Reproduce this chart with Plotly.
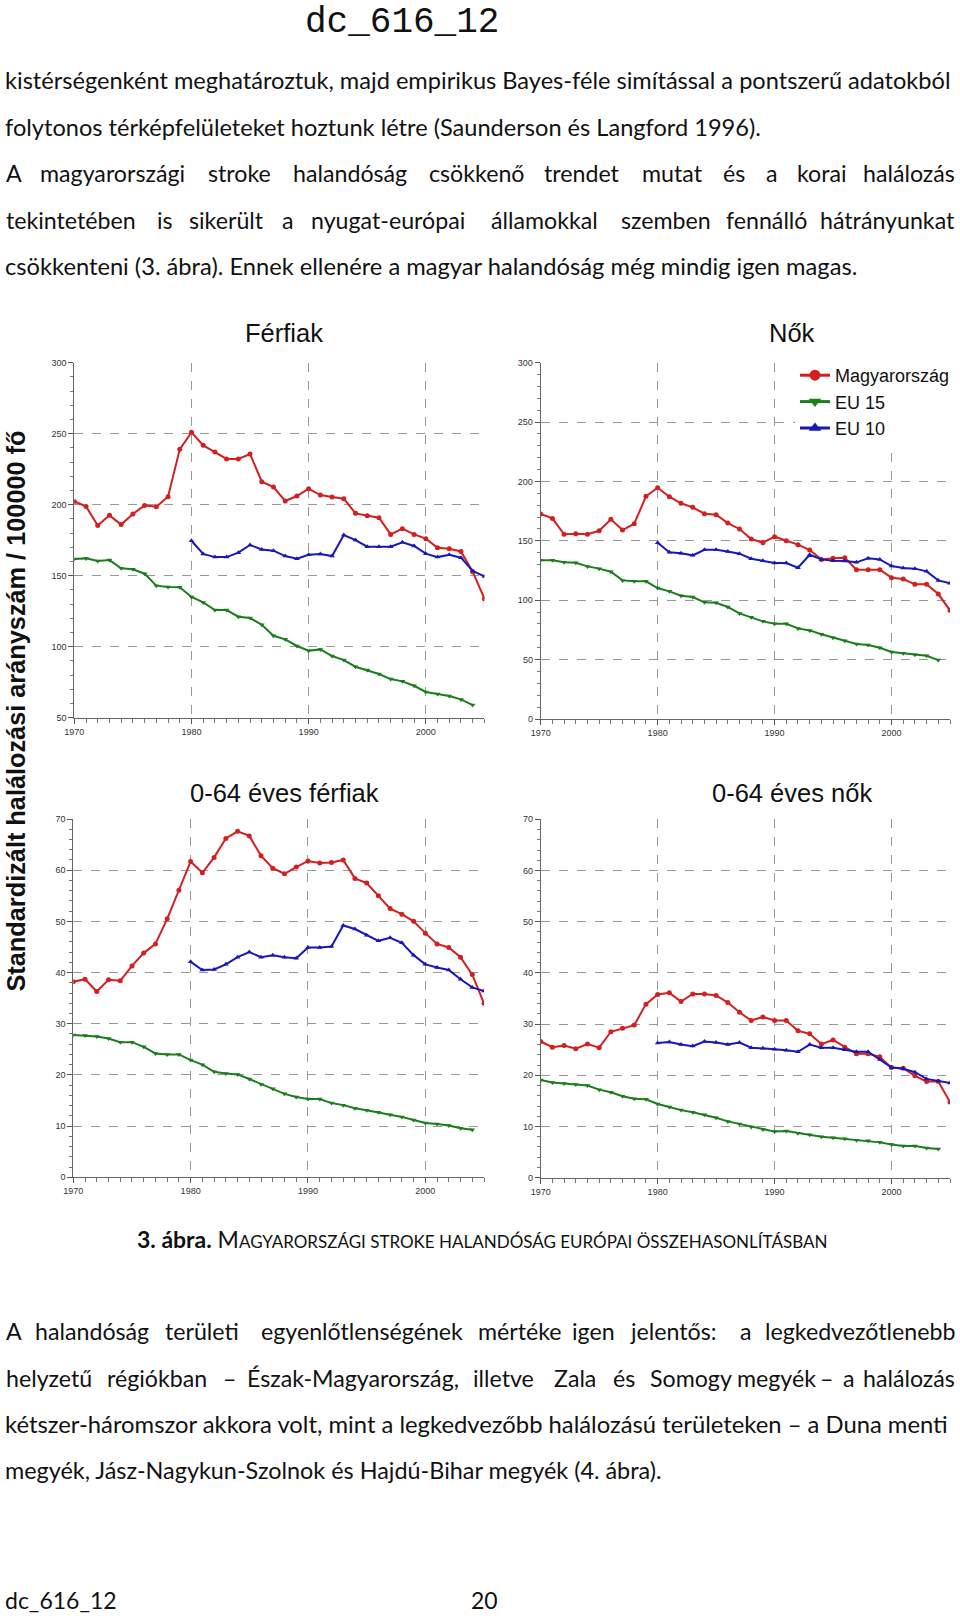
import plotly.graph_objects as go

W, H = 960, 1616

years = list(range(1970, 2006))
years_eu10 = list(range(1980, 2006))
years_eu15 = list(range(1970, 2005))

series_names = ["Magyarország", "EU 15", "EU 10"]
panel_titles = ["Férfiak", "Nők", "0-64 éves férfiak", "0-64 éves nők"]
x_ticks = [1970, 1980, 1990, 2000]

hu_m = [202.3, 198.8, 185.4, 192.5, 186.0, 193.4, 199.5, 198.6, 205.6, 239.0,
        251.0, 241.8, 237.1, 232.2, 232.2, 235.7, 216.2, 212.4, 202.6, 206.1,
        211.3, 206.8, 205.4, 204.2, 193.9, 192.3, 190.8, 179.1, 183.1, 179.1,
        176.1, 169.7, 169.0, 167.1, 152.8, 133.8]
eu15_m = [161.7, 162.2, 160.3, 161.0, 155.2, 154.5, 151.4, 143.0, 142.0, 141.8,
          135.0, 131.2, 125.8, 125.8, 121.1, 120.2, 115.5, 107.7, 105.2, 100.5,
          97.2, 98.1, 93.4, 90.6, 85.9, 83.6, 80.8, 77.2, 75.6, 72.5,
          68.1, 66.7, 65.3, 62.9, 58.9]
eu10_m = [174.6, 165.3, 163.1, 163.1, 166.2, 171.6, 168.5, 167.6, 163.8, 162.0,
          164.8, 165.3, 163.8, 178.6, 175.1, 170.4, 170.4, 170.4, 173.5, 170.9,
          165.5, 163.1, 164.8, 162.7, 153.3, 149.5]

hu_f = [172.6, 168.9, 155.5, 156.0, 155.5, 158.5, 168.1, 159.1, 164.4, 187.5,
        194.8, 187.2, 181.6, 178.2, 172.9, 172.0, 165.0, 160.0, 151.5, 148.4,
        153.5, 150.1, 146.8, 142.3, 134.4, 135.3, 135.8, 125.7, 125.7, 125.7,
        119.0, 117.9, 113.4, 113.4, 105.2, 91.5]
eu15_f = [133.6, 133.6, 131.9, 131.6, 128.5, 126.6, 124.0, 116.7, 115.9, 115.9,
          110.3, 107.5, 103.8, 102.7, 98.2, 97.9, 94.3, 88.9, 85.6, 82.2,
          80.2, 80.2, 76.3, 74.6, 71.3, 68.5, 65.9, 63.1, 62.3, 60.0,
          56.4, 55.3, 54.1, 53.3, 49.6]
eu10_f = [148.4, 140.3, 139.5, 137.8, 142.5, 142.5, 141.1, 139.2, 135.0, 133.3,
          131.3, 131.3, 127.4, 138.3, 134.4, 133.3, 133.0, 131.9, 135.3, 134.4,
          128.8, 127.1, 126.6, 124.3, 116.7, 114.2]

hu_m64 = [38.2, 38.7, 36.3, 38.6, 38.4, 41.3, 43.8, 45.6, 50.5, 56.1,
          61.7, 59.5, 62.5, 66.2, 67.6, 66.7, 62.8, 60.4, 59.3, 60.6,
          61.8, 61.4, 61.5, 62.0, 58.4, 57.5, 55.0, 52.5, 51.4, 50.0,
          47.7, 45.6, 44.9, 43.0, 39.6, 34.0]
eu15_m64 = [27.8, 27.7, 27.5, 27.1, 26.4, 26.4, 25.5, 24.2, 24.0, 24.0,
            22.9, 22.0, 20.6, 20.3, 20.1, 19.2, 18.2, 17.3, 16.3, 15.7,
            15.3, 15.3, 14.5, 14.1, 13.5, 13.1, 12.7, 12.2, 11.8, 11.2,
            10.6, 10.4, 10.1, 9.6, 9.3]
eu10_m64 = [42.1, 40.5, 40.6, 41.6, 43.0, 44.0, 43.0, 43.4, 43.0, 42.8,
            44.9, 44.9, 45.1, 49.2, 48.5, 47.3, 46.2, 46.8, 45.8, 43.4,
            41.6, 41.0, 40.5, 38.7, 37.1, 36.4]

hu_f64 = [26.6, 25.5, 25.8, 25.2, 26.1, 25.4, 28.5, 29.2, 29.8, 33.9,
          35.8, 36.1, 34.4, 35.9, 35.9, 35.6, 34.2, 32.3, 30.7, 31.4,
          30.7, 30.7, 28.7, 28.1, 26.1, 26.9, 25.5, 24.2, 24.2, 23.6,
          21.5, 21.4, 19.9, 18.8, 18.8, 14.8]
eu15_f64 = [19.1, 18.6, 18.4, 18.2, 18.0, 17.2, 16.7, 15.9, 15.4, 15.3,
            14.4, 13.8, 13.2, 12.8, 12.3, 11.7, 11.0, 10.5, 9.9, 9.4,
            9.0, 9.1, 8.7, 8.4, 8.0, 7.8, 7.6, 7.3, 7.2, 6.9,
            6.5, 6.2, 6.2, 5.8, 5.6]
eu10_f64 = [26.3, 26.5, 26.0, 25.7, 26.6, 26.4, 26.0, 26.4, 25.4, 25.3,
            25.1, 24.9, 24.6, 26.0, 25.4, 25.4, 25.0, 24.6, 24.6, 23.1,
            21.5, 21.3, 20.6, 19.3, 18.9, 18.5]

panels = [
    (hu_m, eu15_m, eu10_m),
    (hu_f, eu15_f, eu10_f),
    (hu_m64, eu15_m64, eu10_m64),
    (hu_f64, eu15_f64, eu10_f64),
]
y_ranges = [(50, 300, 50, 10), (0, 300, 50, 10), (0, 70, 10, 2), (0, 70, 10, 2)]

RED, GREEN, BLUE = "#d21f1f", "#1d7d1d", "#1818b8"

# panel boxes in page pixels: (x0, x1, ytop, ybottom)
boxes = [(74.3, 484.4, 362.7, 717.7), (540.7, 950.0, 362.7, 719.0),
         (73.3, 484.0, 819.0, 1177.3), (540.7, 950.0, 819.3, 1177.7)]


def px(x):
    return x / W


def py(y):
    return 1 - y / H


fig = go.Figure()
styles = [(RED, "circle"), (GREEN, "triangle-down"), (BLUE, "triangle-up")]
xs_list = [years, years_eu15, years_eu10]

for i, data in enumerate(panels):
    ax = "" if i == 0 else str(i + 1)
    for j, vals in enumerate(data):
        col, sym = styles[j]
        fig.add_trace(go.Scatter(
            x=xs_list[j], y=vals, mode="lines+markers",
            name=series_names[j], legendgroup=series_names[j],
            showlegend=False,
            line=dict(color=col, width=2),
            marker=dict(color=col, symbol=sym, size=5),
            xaxis="x" + ax, yaxis="y" + ax))

# legend entries (larger symbols, as in the original legend)
for j, name in enumerate(series_names):
    col, sym = styles[j]
    fig.add_trace(go.Scatter(
        x=[None], y=[None], mode="lines+markers", name=name,
        legendgroup=name, showlegend=True,
        line=dict(color=col, width=3),
        marker=dict(color=col, symbol=sym, size=11),
        xaxis="x2", yaxis="y2"))

layout = dict(
    width=W, height=H, autosize=False,
    margin=dict(l=0, r=0, t=0, b=0, autoexpand=False),
    paper_bgcolor="white", plot_bgcolor="white",
    font=dict(family="Liberation Sans, Arial", color="#222"),
    showlegend=True,
    legend=dict(x=px(795), y=py(357), xanchor="left", yanchor="top",
                bgcolor="white", borderwidth=0,
                font=dict(family="Liberation Sans, Arial", size=18, color="#111"),
                traceorder="normal", tracegroupgap=5, itemwidth=30),
)

for i, (x0, x1, yt, yb) in enumerate(boxes):
    ax = "" if i == 0 else str(i + 1)
    lo, hi, dmaj, dmin = y_ranges[i]
    layout["xaxis" + ax] = dict(
        domain=[px(x0), px(x1)], range=[1970, 2005], anchor="y" + ax,
        tickvals=x_ticks, ticks="outside", ticklen=5, tickcolor="#555",
        showline=True, linecolor="#666", linewidth=1,
        showgrid=True, gridcolor="#999999", griddash="dash", gridwidth=1,
        zeroline=False, tickfont=dict(size=9, color="#333"),
        automargin=False,
        minor=dict(dtick=1, ticks="outside", ticklen=4, tickcolor="#777",
                   showgrid=False, tick0=1970),
    )
    layout["yaxis" + ax] = dict(
        domain=[py(yb), py(yt)], range=[lo, hi], anchor="x" + ax,
        dtick=dmaj, tick0=0, ticks="outside", ticklen=5, tickcolor="#555",
        showline=True, linecolor="#666", linewidth=1,
        showgrid=True, gridcolor="#999999", griddash="dash", gridwidth=1,
        zeroline=False, tickfont=dict(size=9, color="#333"),
        automargin=False,
        minor=dict(dtick=dmin, ticks="outside", ticklen=3, tickcolor="#777",
                   showgrid=False),
    )

fig.update_layout(**layout)

ann = []
TXT = "Lato, Carlito, Calibri, sans-serif"
TS = 23.2


def text(x, y, s, size=TS, family=TXT, anchor="left", color="#111", angle=0,
         yanchor="middle"):
    ann.append(dict(x=px(x), y=py(y), xref="paper", yref="paper", text=s,
                    showarrow=False, xanchor=anchor, yanchor=yanchor,
                    textangle=angle,
                    font=dict(size=size, family=family, color=color)))


S = 960 / 931.0
RIGHT_EDGE = 957


def justified(y, words, size=TS):
    # words are placed at positions; last word flush right
    for k, (w, x) in enumerate(words):
        if k == len(words) - 1:
            text(RIGHT_EDGE, y, w, size=size, anchor="right")
        else:
            text(x * S, y, w, size=size)


# header
text(402, 0, "dc_616_12", size=36, family="Liberation Mono, Courier New",
     anchor="center", yanchor="top")

# top paragraph
text(3, 80.4, "kistérségenként meghatároztuk, majd empirikus Bayes-féle simítással a pontszerű adatokból", size=23.6)
text(3, 126.8, "folytonos térképfelületeket hoztunk létre (Saunderson és Langford 1996).", size=23.6)
justified(173.2, [("A", 4), ("magyarországi", 37), ("stroke", 200), ("halandóság", 282),
                  ("csökkenő", 414), ("trendet", 526), ("mutat", 621), ("és", 699),
                  ("a", 741), ("korai", 771), ("halálozás", 840)])
justified(219.6, [("tekintetében", 4), ("is", 150), ("sikerült", 181), ("a", 272),
                  ("nyugat-európai", 300), ("államokkal", 474), ("szemben", 600),
                  ("fennálló", 702), ("hátrányunkat", 797)])
text(3, 266, "csökkenteni (3. ábra). Ennek ellenére a magyar halandóság még mindig igen magas.", size=23.7)

# panel titles
TF = "Liberation Sans, Arial"
text(284, 333, panel_titles[0], size=25.5, family=TF, anchor="center")
text(792, 333, panel_titles[1], size=25.5, family=TF, anchor="center")
text(284, 793, panel_titles[2], size=25.5, family=TF, anchor="center")
text(792, 793, panel_titles[3], size=25.5, family=TF, anchor="center")

# y axis title
ann.append(dict(x=px(15), y=py(711.5), xref="paper", yref="paper",
                text="<b>Standardizált halálozási arányszám / 100000 fő</b>",
                showarrow=False, xanchor="center", yanchor="middle", textangle=-90,
                font=dict(size=25.3, family=TF, color="#111")))

# caption
cap = ("<b>3. ábra.</b> M<span style='font-size:17px'>AGYARORSZÁGI STROKE HALANDÓSÁG "
       "EURÓPAI ÖSSZEHASONLÍTÁSBAN</span>")
text(482, 1239, cap, size=23, anchor="center")

# bottom paragraph
justified(1331, [("A", 4), ("halandóság", 32), ("területi", 158), ("egyenlőtlenségének", 251),
                 ("mértéke", 462), ("igen", 553), ("jelentős:", 609), ("a", 716),
                 ("legkedvezőtlenebb", 741)])
justified(1377.5, [("helyzetű", 4), ("régiókban", 102), ("–", 214), ("Észak-Magyarország,", 238),
                   ("illetve", 457), ("Zala", 535), ("és", 593), ("Somogy", 628),
                   ("megyék", 713), ("–", 793), ("a", 816), ("halálozás", 842)])
text(3, 1424, "kétszer-háromszor akkora volt, mint a legkedvezőbb halálozású területeken – a Duna menti", size=23.8)
text(3, 1470, "megyék, Jász-Nagykun-Szolnok és Hajdú-Bihar megyék (4. ábra).", size=23.4)

# footer
text(3, 1600, "dc_616_12", size=23)
text(469, 1600, "20", size=23)

fig.update_layout(annotations=ann)

fig.write_html("out.html", config={"displayModeBar": False},
               post_script="document.body.style.margin='0';")
